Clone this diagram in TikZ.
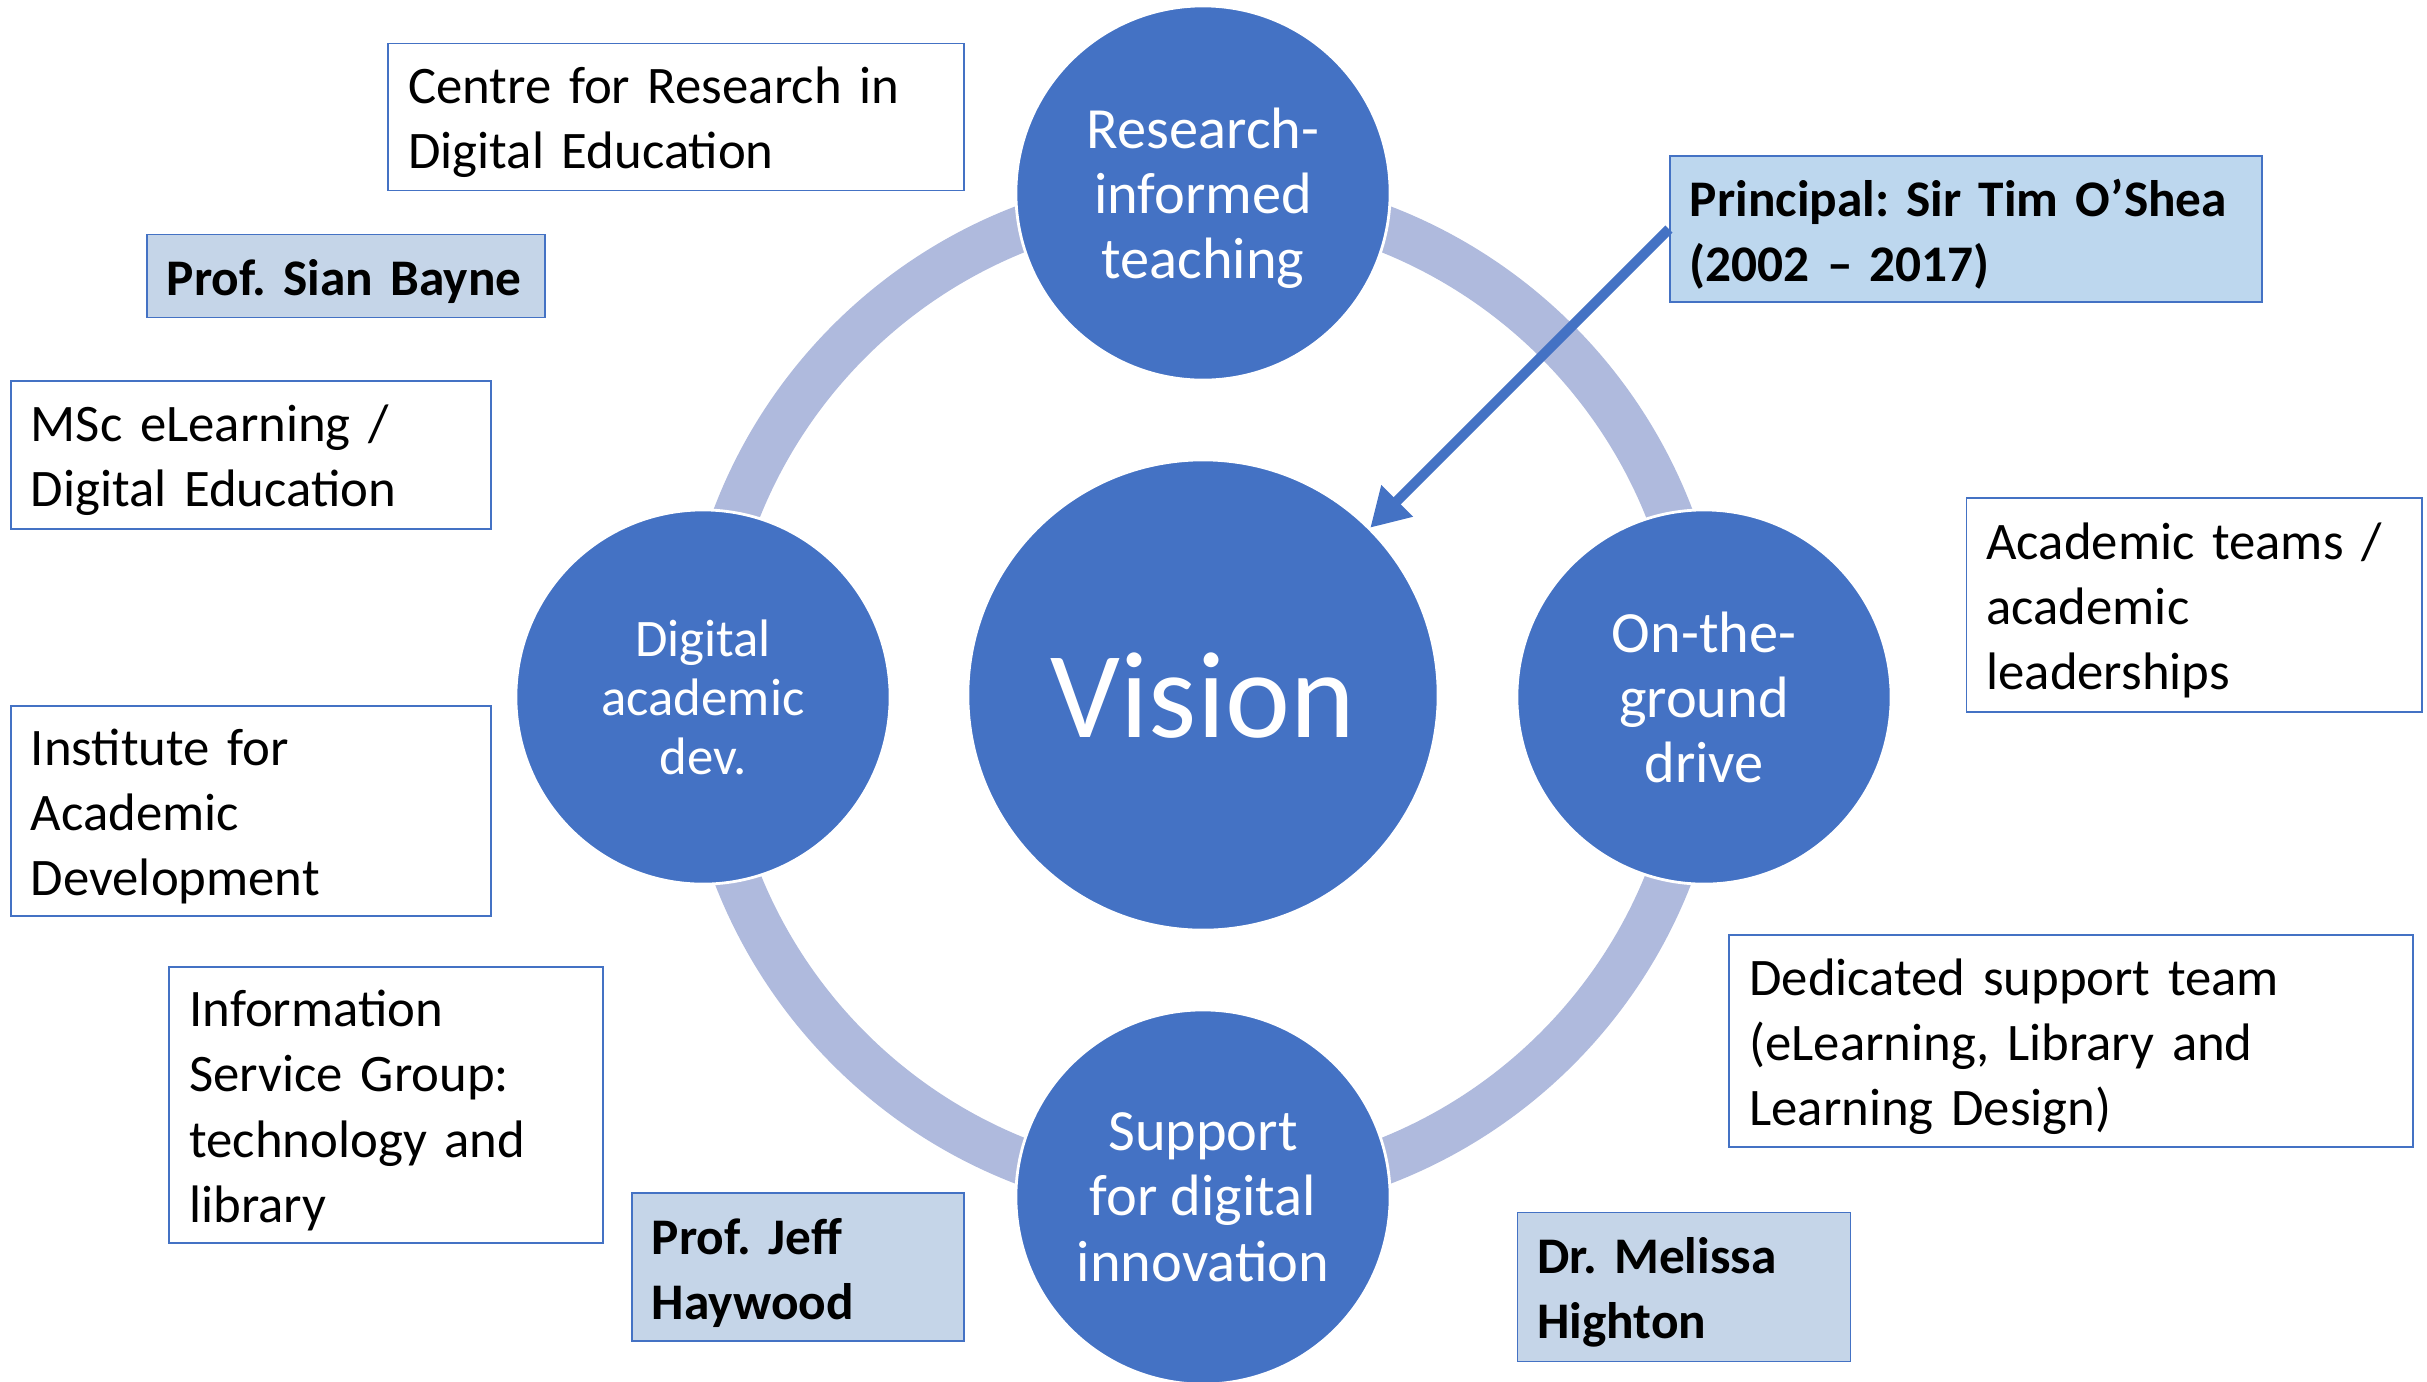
\documentclass[tikz,border=0pt]{standalone}
\usepackage{fontspec}
\setmainfont{Carlito}
\frenchspacing
\usetikzlibrary{arrows.meta, positioning}
\definecolor{hubblue}{RGB}{68,114,196}
\definecolor{ringblue}{RGB}{175,186,221}
\definecolor{namefill}{RGB}{197,213,232}
\definecolor{principalfill}{RGB}{189,215,238}
\tikzset{
  hub/.style = {circle, fill=hubblue, draw=white, line width=0.8pt,
                text=white, align=center, inner sep=0pt, text depth=0pt},
  spoke/.style = {hub, minimum size=3.74cm,
                  font=\fontsize{16.6}{18.5}\selectfont},
  ring/.style = {draw=ringblue, line width=0.46cm},
  infobox/.style = {draw=hubblue, line width=0.5pt, fill=white, align=left,
                    inner xsep=0.2cm, inner ysep=0pt, text height=13.5pt,
                    font=\fontsize{15}{18.5}\selectfont},
  namebox/.style = {infobox, fill=namefill,
                    font=\fontsize{14.6}{18.5}\selectfont\bfseries},
  link/.style = {hubblue, line width=0.1cm,
                 arrows={-Triangle[length=0.38cm, width=0.42cm]}},
}

\begin{document}
\begin{tikzpicture}[x=0.01cm, y=-0.01cm]
  \useasboundingbox (0,0) rectangle (2427,1381);

  % The ring and the five circles
  \node (vision) [hub, minimum size=4.7cm,
                  font=\fontsize{35}{40}\selectfont] at (1203,695) {Vision};
  \draw [ring] (vision.center) circle (5cm);
  \node (research) [spoke] at (1203,193) {Research-\\informed\\teaching};
  \node (academic) [spoke, font=\fontsize{15}{16.7}\selectfont]
    at (703,697) {Digital\\academic\\dev.};
  \node (ground) [spoke] at (1704,697) {On-the-\\ground\\drive};
  \node (innovation) [spoke] at (1203,1197) {Support\\for digital\\innovation};

  % Units and people
  \node (crde) [infobox, text width=5.35cm, minimum height=1.47cm]
    at (676,117) {Centre for Research in\\Digital Education};
  \node (bayne) [namebox, text width=3.58cm, minimum height=0.83cm]
    at (346,276) {Prof.~Sian~Bayne};
  \node (msc) [infobox, text width=4.4cm, minimum height=1.48cm]
    at (251,455) {MSc eLearning /\\Digital Education};
  \node (iad) [infobox, text width=4.4cm, minimum height=2.1cm]
    at (251,811) {Institute for\\Academic\\Development};
  \node (isg) [infobox, text width=3.93cm, minimum height=2.76cm]
    at (386,1105) {Information\\Service Group:\\technology and\\library};
  \node (haywood) [namebox, text width=2.92cm, minimum height=1.48cm]
    at (798,1267) {Prof. Jeff\\Haywood};
  \node (principal) [namebox, fill=principalfill, text width=5.52cm,
                     minimum height=1.46cm]
    at (1966,229) {Principal: Sir Tim O’Shea\\(2002 – 2017)};
  \node (teams) [infobox, text width=4.15cm, minimum height=2.14cm]
    at (2194,605) {Academic teams /\\academic\\leaderships};
  \node (supportteam) [infobox, text width=6.43cm, minimum height=2.12cm]
    at (2071,1041) {Dedicated support team\\(eLearning, Library and\\Learning Design)};
  \node (highton) [namebox, text width=2.93cm, minimum height=1.49cm]
    at (1684,1287) {Dr. Melissa\\Highton};

  \draw [link] (principal.west) -- (vision);
\end{tikzpicture}
\end{document}
